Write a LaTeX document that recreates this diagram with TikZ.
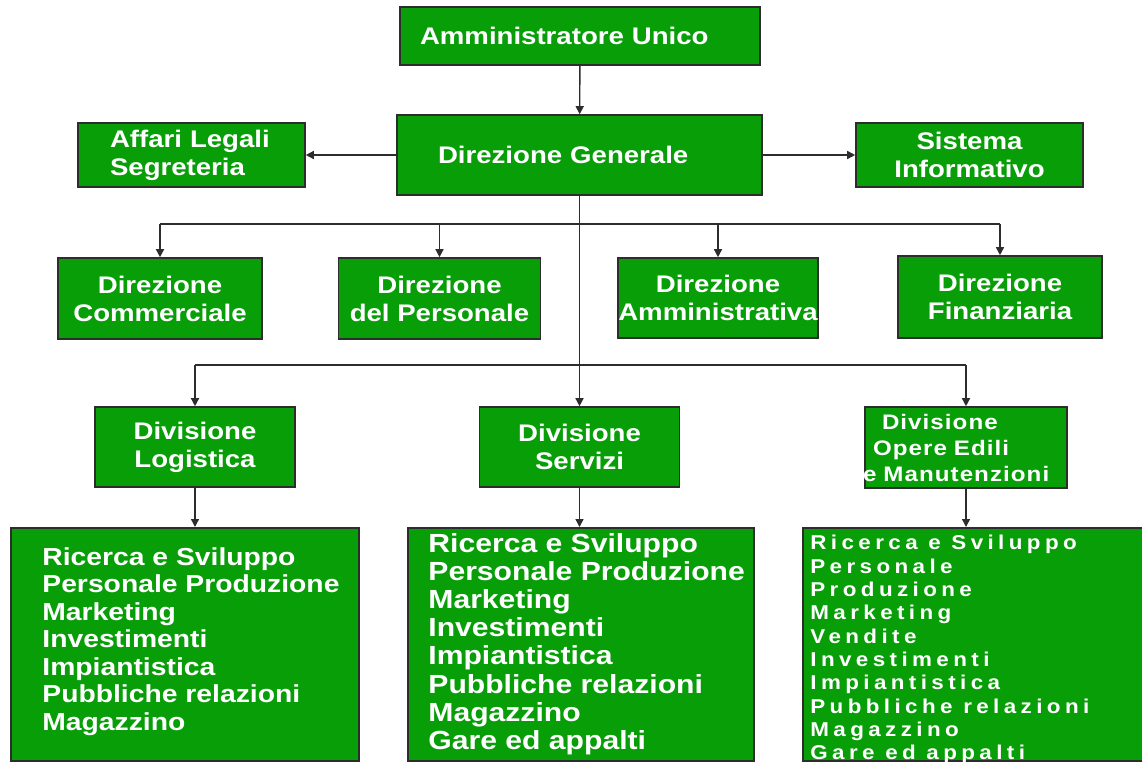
\documentclass[tikz,border=0pt]{standalone}
\usepackage{fontspec}
\newfontfamily\orgfont[FakeStretch=1.15]{Liberation Sans}
\newfontfamily\orgmid[FakeStretch=1.15, LetterSpace=5]{Liberation Sans}
\newfontfamily\orgwide[FakeStretch=1.12, LetterSpace=22]{Liberation Sans}
\usetikzlibrary{arrows.meta}
\definecolor{orgGreen}{RGB}{8,158,8}
\definecolor{orgLine}{RGB}{45,45,45}

\begin{document}
\begin{tikzpicture}[
  x=0.5pt, y=-0.5pt,
  unit/.style={
    rectangle, draw=orgLine, fill=orgGreen, line width=0.8pt, text=white,
    font=\orgfont\bfseries\fontsize{12}{14}\selectfont, align=center, inner sep=0pt
  },
  area/.style={rectangle, draw=orgLine, fill=orgGreen, line width=0.8pt, anchor=north west, inner sep=0pt},
  list/.style={text=white, align=left, inner sep=0pt, anchor=north west},
  link/.style={line width=0.7pt, draw=orgLine},
  flow/.style={-{Triangle[length=4pt, width=4pt]}, line width=0.7pt, draw=orgLine},
]
\useasboundingbox (0,0) rectangle (1142,762);

% --- Top management ---------------------------------------------------------
\node[unit, minimum width=180pt, minimum height=29pt, text width=160pt, align=left] (au) at (580,36) {Amministratore Unico};
\node[unit, minimum width=182.5pt, minimum height=40pt, text width=141.5pt, align=left] (dg) at (579.5,155) {Direzione Generale};
\node[unit, minimum width=113.5pt, minimum height=32pt, text width=81.5pt, align=left] (alseg) at (191.5,155) {Affari Legali\\Segreteria};
\node[unit, minimum width=113.5pt, minimum height=32pt] (si) at (969.5,155) {Sistema\\Informativo};

% --- Directorates -----------------------------------------------------------
\node[unit, minimum width=102pt, minimum height=40.5pt] (dcomm) at (160,298.5) {Direzione\\Commerciale};
\node[unit, minimum width=101pt, minimum height=40.5pt] (dpers) at (439.5,298.5) {Direzione\\del Personale};
\node[unit, minimum width=100pt, minimum height=40pt]   (damm)  at (718,298) {Direzione\\Amministrativa};
\node[unit, minimum width=102pt, minimum height=41pt]   (dfin)  at (1000,297) {Direzione\\Finanziaria};

% --- Divisions --------------------------------------------------------------
\node[unit, minimum width=100pt, minimum height=40pt] (divlog)  at (195,447) {Divisione\\Logistica};
\node[unit, minimum width=100pt, minimum height=40pt] (divserv) at (579.5,447) {Divisione\\Servizi};
\node[unit, minimum width=101pt, minimum height=40.5pt, text width=103pt, inner xsep=-1pt, align=left,
      font=\orgmid\bfseries\fontsize{10.5}{13}\selectfont] (divope) at (966,447.5)
      {\hspace{9.5pt}Divisione\\\hspace{5pt}Opere Edili\\e Manutenzioni};

% --- Function lists ---------------------------------------------------------
\node[area, minimum width=174pt, minimum height=116.5pt] (logarea)  at (10,527) {};
\node[area, minimum width=173pt, minimum height=116.5pt] (servarea) at (407,527) {};
\node[area, minimum width=180pt, minimum height=116.5pt] (opearea)  at (802,527) {};

\node[list, font=\orgfont\bfseries\fontsize{12.3}{13.75}\selectfont] (logtext) at (42,547)
  {Ricerca e Sviluppo\\Personale Produzione\\Marketing\\Investimenti\\Impiantistica\\Pubbliche relazioni\\Magazzino};
\node[list, font=\orgfont\bfseries\fontsize{13.1}{14.07}\selectfont] (servtext) at (428,533)
  {Ricerca e Sviluppo\\Personale Produzione\\Marketing\\Investimenti\\Impiantistica\\Pubbliche relazioni\\Magazzino\\Gare ed appalti};
\node[list, font=\orgwide\bfseries\fontsize{10}{11.67}\selectfont] (opetext) at (810,535)
  {Ricerca e Sviluppo\\Personale\\Produzione\\Marketing\\Vendite\\Investimenti\\Impiantistica\\Pubbliche relazioni\\Magazzino\\Gare ed appalti};

% --- Connectors -------------------------------------------------------------
\coordinate (busTop) at (579.5,224);
\coordinate (busLow) at (579.5,365);

\draw[flow] (au) -- (dg);
\draw[flow] (dg.west) -- (alseg.east);
\draw[flow] (dg.east) -- (si.west);
\draw[flow] (dg.south) -- (divserv.north);

\draw[link] (dcomm.north |- busTop) -- (dfin.north |- busTop);
\foreach \n in {dcomm, dpers, damm, dfin}
  \draw[flow] (\n.north |- busTop) -- (\n.north);

\draw[link] (divlog.north |- busLow) -- (divope.north |- busLow);
\foreach \n in {divlog, divope}
  \draw[flow] (\n.north |- busLow) -- (\n.north);

\foreach \d/\a in {divlog/logarea, divserv/servarea, divope/opearea}
  \draw[flow] (\d.south) -- (\d.south |- \a.north);

\end{tikzpicture}
\end{document}
